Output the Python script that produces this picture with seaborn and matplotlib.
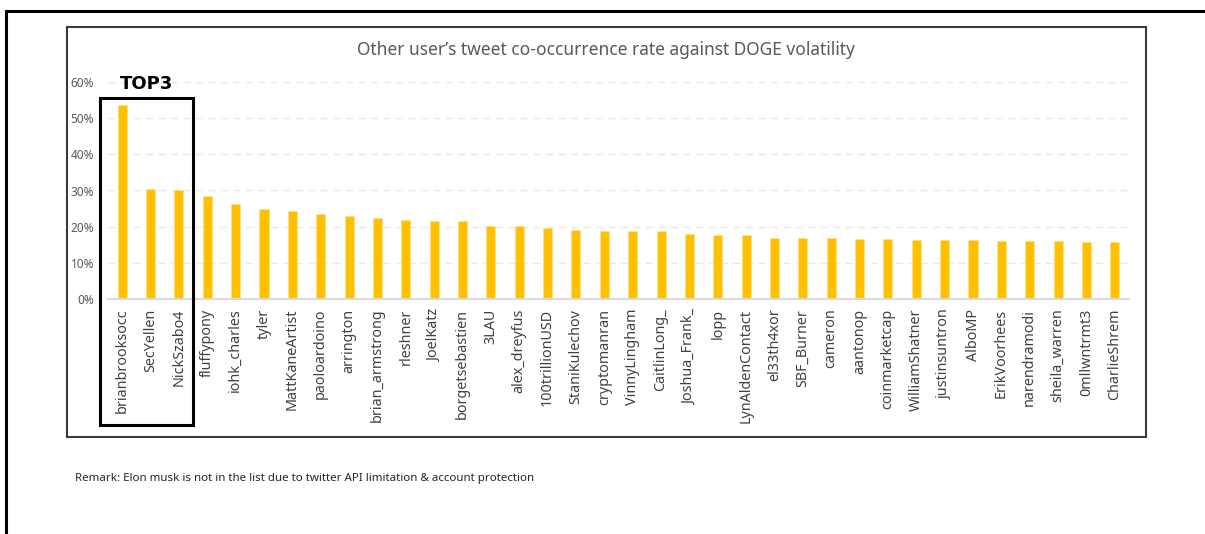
import matplotlib
matplotlib.use("Agg")
import matplotlib.pyplot as plt
from matplotlib.patches import Rectangle
from matplotlib.lines import Line2D
import seaborn as sns
import pandas as pd

users = ["brianbrooksocc", "SecYellen", "NickSzabo4", "fluffypony", "iohk_charles", "tyler",
         "MattKaneArtist", "paoloardoino", "arrington", "brian_armstrong", "rleshner", "JoelKatz",
         "borgetsebastien", "3LAU", "alex_dreyfus", "100trillionUSD", "StaniKulechov", "cryptomanran",
         "VinnyLingham", "CaitlinLong_", "Joshua_Frank_", "lopp", "LynAldenContact", "el33th4xor",
         "SBF_Burner", "cameron", "aantonop", "coinmarketcap", "WilliamShatner", "justinsuntron",
         "AlboMP", "ErikVoorhees", "narendramodi", "sheila_warren", "0mllwntrmt3", "CharlieShrem"]
rates = [53.7, 30.4, 30.2, 28.5, 26.3, 24.9, 24.4, 23.5, 23.0, 22.3, 21.9, 21.7,
         21.5, 20.3, 20.1, 19.5, 19.1, 18.7, 18.7, 18.7, 18.1, 17.6, 17.6, 16.8,
         16.8, 16.8, 16.6, 16.6, 16.3, 16.3, 16.3, 16.1, 16.1, 15.9, 15.8, 15.8]
yticks = [0, 10, 20, 30, 40, 50, 60]
ytick_labels = ["0%", "10%", "20%", "30%", "40%", "50%", "60%"]
title = "Other user\u2019s tweet co-occurrence rate against DOGE volatility"
remark = "Remark: Elon musk is not in the list due to twitter API limitation & account protection"

sns.set_style("white")
plt.rcParams["font.family"] = ["Noto Sans", "DejaVu Sans"]

W, H = 1205, 534
fig = plt.figure(figsize=(W / 100, H / 100), dpi=100)

def fx(px):
    return px / W

def fy(py):
    return 1 - py / H

# outer frame (top and left lines)
fig.add_artist(Line2D([fx(6), 1.0], [fy(11), fy(11)], color="black", lw=2.2, transform=fig.transFigure))
fig.add_artist(Line2D([fx(6), fx(6)], [fy(11), 0.0], color="black", lw=2.2, transform=fig.transFigure))
# inner chart box
fig.add_artist(Rectangle((fx(67), fy(437)), fx(1146) - fx(67), fy(27) - fy(437),
                         fill=False, edgecolor="#3a3a3a", lw=1.5, transform=fig.transFigure))

ax = fig.add_axes([fx(108), fy(299), fx(1129) - fx(108), fy(82) - fy(299)])
df = pd.DataFrame({"user": users, "rate": rates})
sns.barplot(data=df, x="user", y="rate", color="#FFC000", saturation=1, width=0.32,
            edgecolor="#FFE08A", linewidth=0.6, ax=ax, zorder=3)
ax.set_ylim(0, 60)
ax.set_xlim(-0.5, len(users) - 0.5)
ax.set_yticks(yticks)
ax.set_yticklabels(ytick_labels)
ax.set_xlabel("")
ax.set_ylabel("")
for s in ["top", "right", "left"]:
    ax.spines[s].set_visible(False)
ax.spines["bottom"].set_color("#D9D9D9")
ax.spines["bottom"].set_linewidth(1.5)
ax.spines["bottom"].set_zorder(4)
for v in yticks[1:]:
    ax.axhline(v, color="#E8E8E8", lw=1.0, ls=(0, (5, 4)), zorder=1)
ax.tick_params(axis="y", length=0, pad=10, labelsize=8.5, labelcolor="#595959")
ax.tick_params(axis="x", length=0, pad=7, labelsize=10.3, labelcolor="#404040", rotation=90)

fig.text(fx(606), fy(50), title, ha="center", va="center", fontsize=12.5, color="#595959")
fig.text(fx(75), fy(479), remark, ha="left", va="center", fontsize=8.3, color="#262626")

# TOP3 highlight
fig.add_artist(Rectangle((fx(100), fy(425)), fx(193) - fx(100), fy(98) - fy(425),
                         fill=False, edgecolor="black", lw=2.2, transform=fig.transFigure))
fig.text(fx(146), fy(84), "TOP3", ha="center", va="center", fontsize=13, fontweight="bold",
         family=["DejaVu Sans"], color="black")

fig.savefig("out.png", dpi=100)
